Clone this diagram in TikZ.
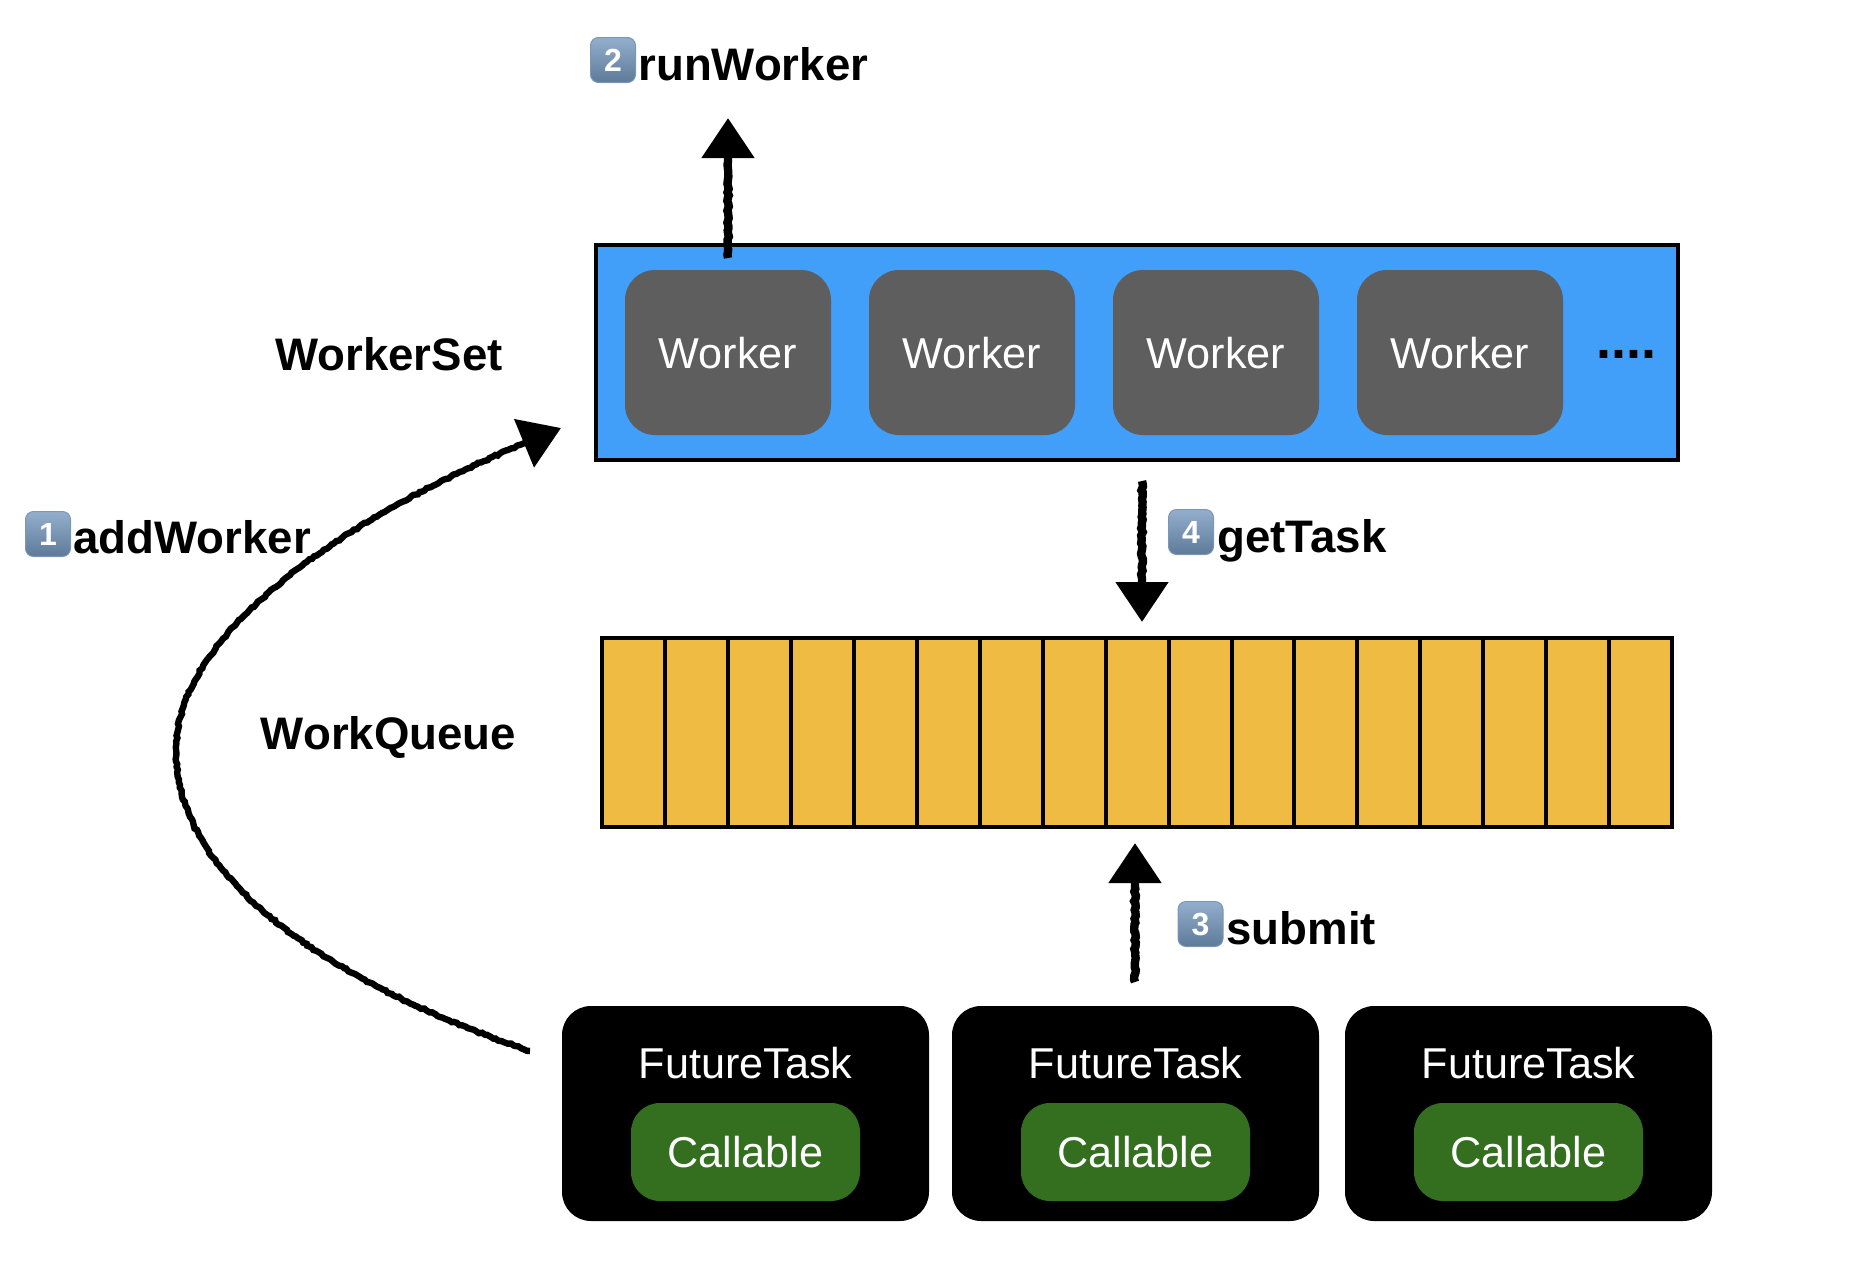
\documentclass[tikz,border=0pt]{standalone}
\usepackage{fontspec}
\setmainfont{Liberation Sans}
\usetikzlibrary{arrows.meta,decorations.pathmorphing}
\definecolor{setblue}{HTML}{419EF9}
\definecolor{workergrey}{HTML}{5E5E5E}
\definecolor{queuegold}{HTML}{F0BB42}
\definecolor{callgreen}{HTML}{336F1F}
\definecolor{captop}{HTML}{93AFCD}
\definecolor{capbot}{HTML}{5E7A99}
\definecolor{capedge}{HTML}{7C97B5}
\tikzset{
  setbox/.style={draw=black,line width=2pt,fill=setblue,minimum width=541pt,minimum height=107.5pt,inner sep=0pt},
  worker/.style={fill=workergrey,rounded corners=15pt,minimum width=103pt,minimum height=82.5pt,inner sep=0pt},
  cell/.style={draw=black,line width=2pt,fill=queuegold,minimum width=31.475pt,minimum height=94.5pt,inner sep=0pt},
  taskbox/.style={fill=black,rounded corners=14.5pt,minimum width=183.5pt,minimum height=107.5pt,inner sep=0pt},
  callbox/.style={fill=callgreen,rounded corners=14.5pt,minimum width=114.5pt,minimum height=49pt,inner sep=0pt},
  whitetext/.style={text=white,font=\fontsize{21.6}{25}\selectfont,inner sep=0pt,anchor=base},
  steplabel/.style={text=black,font=\bfseries\fontsize{22.8}{27}\selectfont,inner sep=0pt,anchor=base west},
  sidelabel/.style={text=black,font=\bfseries\fontsize{22.8}{27}\selectfont,inner sep=0pt,anchor=base},
  keycap/.style={draw=capedge,line width=.5pt,top color=captop,bottom color=capbot,rounded corners=4pt,minimum size=22.5pt,inner sep=0pt,text=white,font=\bfseries\fontsize{16}{16}\selectfont},
  sketchy/.style={line width=4.2pt,line cap=butt,decorate,decoration={random steps,segment length=1.5pt,amplitude=.45pt,post length=22pt,post=lineto}},
  sketchthin/.style={sketchy,line width=3.2pt},
  bighead/.style={-{Triangle[length=20pt,width=25.5pt,fill=black]}},
}
\pgfmathsetseed{4242}
\begin{document}
\begin{tikzpicture}[x=.5pt,y=-.5pt]
\useasboundingbox (0,0) rectangle (1860,1286);
% worker set
\node[setbox] (set) at (1137,352.5) {};
\foreach \n/\x in {1/728,2/972,3/1216,4/1460}{
  \node[worker] (w\n) at (\x,352.5) {};
  \node[whitetext] (wt\n) at (\x,368) {Worker};
}
\node[text=black,font=\bfseries\fontsize{27}{27}\selectfont,inner sep=0pt,anchor=base] (dots) at (1626,358) {....};
\node[sidelabel] (setlabel) at (389,370) {WorkerSet};
% queue
\foreach \i in {0,...,16}{
  \pgfmathsetmacro{\cx}{602+62.95*(\i+.5)}
  \node[cell] (c\i) at (\cx,732.5) {};
}
\node[sidelabel] (queuelabel) at (388.5,749) {WorkQueue};
% tasks
\foreach \n/\x in {1/745.5,2/1135.5,3/1528.5}{
  \node[taskbox] (t\n) at (\x,1113.5) {};
  \node[whitetext] (tt\n) at (\x,1078) {FutureTask};
  \node[callbox] (cb\n) at (\x,1152) {};
  \node[whitetext] (ct\n) at (\x,1167) {Callable};
}
% step labels
\node[keycap] (k1) at (48,534) {1};
\node[steplabel] (l1) at (73,553) {addWorker};
\node[keycap] (k2) at (613,60) {2};
\node[steplabel] (l2) at (638,80) {runWorker};
\node[keycap] (k3) at (1200.5,924) {3};
\node[steplabel] (l3) at (1226,944) {submit};
\node[keycap] (k4) at (1191,532) {4};
\node[steplabel] (l4) at (1217,552) {getTask};
% connector ends
\coordinate (runTail) at (728,258);
\coordinate (runTip) at (728,118);
\coordinate (getTail) at (1142,481);
\coordinate (getTip) at (1142,622);
\coordinate (subTail) at (1135,982);
\coordinate (subTip) at (1135,843);
\coordinate (addTail) at (530,1051);
\coordinate (addMid) at (176,750);
\coordinate (addTip) at (561,428);
% connectors
\draw[sketchy,bighead] (runTail) -- (runTip);
\draw[sketchy,bighead] (getTail) -- (getTip);
\draw[sketchy,bighead] (subTail) -- (subTip);
\draw[sketchthin,bighead] (addTail) .. controls (380,1000) and (176,900) .. (addMid) .. controls (176,640) and (325,522) .. (addTip);
\end{tikzpicture}
\end{document}
